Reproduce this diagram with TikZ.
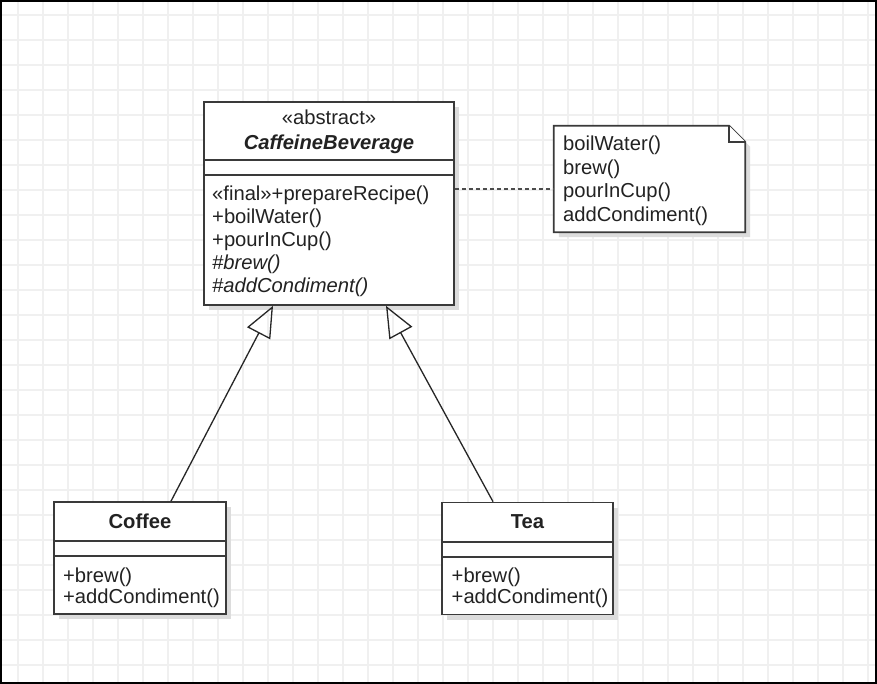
\documentclass[tikz,border=0pt]{standalone}
\usepackage{fontspec}
\setmainfont{Liberation Sans}
\usetikzlibrary{arrows.meta,shadows}
\definecolor{gridc}{HTML}{F0F0F0}
\definecolor{linec}{HTML}{3A3A3A}
\definecolor{txtc}{HTML}{222222}
\definecolor{shadc}{HTML}{DCDCDC}
\begin{document}
\begin{tikzpicture}[x=1pt,y=-1pt,
  umlbox/.style={draw=linec, line width=1.7pt, fill=white, inner sep=0pt,
    drop shadow={shadow xshift=5pt, shadow yshift=-5pt, fill=shadc, opacity=1}},
  sepline/.style={draw=linec, line width=1.7pt},
  txt/.style={text=txtc, inner sep=0pt, font=\fontsize{20.2}{23}\selectfont},
  inh/.style={draw=black!85, line width=1.3pt, -{Triangle[open, length=31pt, width=26pt, line width=1.3pt]}},
  notelink/.style={draw=black!70, line width=1.6pt, dash pattern=on 4pt off 3pt}]
\useasboundingbox (0,0) rectangle (877,684);
\fill[white] (0,0) rectangle (877,684);
% grid
\foreach \x in {18,43,...,868} \draw[gridc, line width=1.3pt] (\x,0) -- (\x,684);
\foreach \y in {15,40,...,680} \draw[gridc, line width=1.3pt] (0,\y) -- (877,\y);

% CaffeineBeverage class
\node[umlbox, minimum width=250pt, minimum height=203pt] (cb) at (329,203.5) {};
\draw[sepline] ([yshift=-59pt]cb.north west) -- ([yshift=-59pt]cb.north east);
\draw[sepline] ([yshift=-74pt]cb.north west) -- ([yshift=-74pt]cb.north east);
\node[txt, anchor=base] (cbst) at (329,124.5) {«abstract»};
\node[txt, anchor=base, font=\fontsize{20.2}{23}\selectfont\bfseries\itshape] (cbname) at (329,149.5) {CaffeineBeverage};
\node[txt, anchor=base west] (m1) at (212,201) {«final»+prepareRecipe()};
\node[txt, anchor=base west] (m2) at (212,224) {+boilWater()};
\node[txt, anchor=base west] (m3) at (212,247) {+pourInCup()};
\node[txt, anchor=base west, font=\fontsize{20.2}{23}\selectfont\itshape] (m4) at (212,270) {\#brew()};
\node[txt, anchor=base west, font=\fontsize{20.2}{23}\selectfont\itshape] (m5) at (212,293) {\#addCondiment()};

% Note
\node[minimum width=191pt, minimum height=106pt, inner sep=0pt] (note) at (649.5,179) {};
\draw[draw=linec, line width=1.7pt, fill=white,
  drop shadow={shadow xshift=5pt, shadow yshift=-5pt, fill=shadc, opacity=1}]
  (note.north west) -- ([xshift=-16pt]note.north east) -- ([yshift=-16pt]note.north east)
  -- (note.south east) -- (note.south west) -- cycle;
\draw[draw=linec, line width=1.7pt, fill=white]
  ([xshift=-16pt]note.north east) -- ([xshift=-16pt,yshift=-16pt]note.north east) -- ([yshift=-16pt]note.north east);
\node[txt, anchor=base west] (n1) at (563,151) {boilWater()};
\node[txt, anchor=base west] (n2) at (563,174.5) {brew()};
\node[txt, anchor=base west] (n3) at (563,198) {pourInCup()};
\node[txt, anchor=base west] (n4) at (563,221.5) {addCondiment()};
\draw[notelink] ([yshift=14.5pt]cb.east) -- ([yshift=14.5pt]cb.east -| note.west);

% Coffee class
\node[umlbox, minimum width=172pt, minimum height=112pt] (coffee) at (140,558) {};
\draw[sepline] ([yshift=-40pt]coffee.north west) -- ([yshift=-40pt]coffee.north east);
\draw[sepline] ([yshift=-55pt]coffee.north west) -- ([yshift=-55pt]coffee.north east);
\node[txt, anchor=base, font=\fontsize{20.2}{23}\selectfont\bfseries] (coffeename) at (140,528.5) {Coffee};
\node[txt, anchor=base west] (c1) at (63,582) {+brew()};
\node[txt, anchor=base west] (c2) at (63,603.5) {+addCondiment()};

% Tea class
\node[umlbox, minimum width=171pt, minimum height=112pt] (tea) at (527.5,558.5) {};
\draw[sepline] ([yshift=-40pt]tea.north west) -- ([yshift=-40pt]tea.north east);
\draw[sepline] ([yshift=-55pt]tea.north west) -- ([yshift=-55pt]tea.north east);
\node[txt, anchor=base, font=\fontsize{20.2}{23}\selectfont\bfseries] (teaname) at (527.5,528.5) {Tea};
\node[txt, anchor=base west] (t1) at (451.5,582) {+brew()};
\node[txt, anchor=base west] (t2) at (451.5,603.5) {+addCondiment()};

% generalizations
\draw[inh] ([xshift=31pt]coffee.north) -- ([xshift=-56pt]cb.south);
\draw[inh] ([xshift=-34.5pt]tea.north) -- ([xshift=57pt]cb.south);

% frame
\draw[black, line width=2.2pt] (1.1,1.1) rectangle (875.9,682.9);
\end{tikzpicture}
\end{document}
